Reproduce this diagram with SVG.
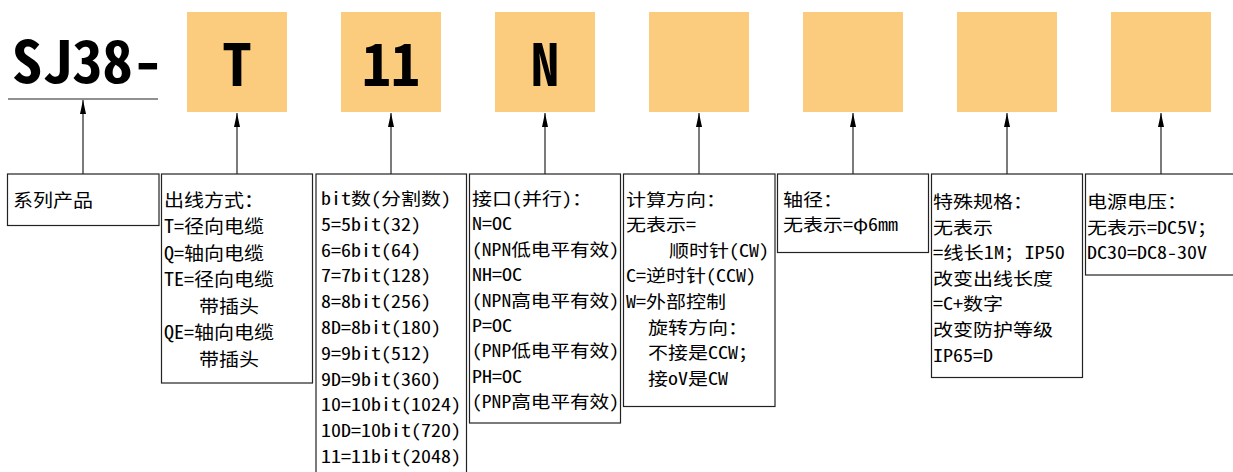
<svg xmlns="http://www.w3.org/2000/svg" width="1233" height="472" viewBox="0 0 1233 472">
<style>
.sq{fill:#FBCB7E}
.big{font-family:"Noto Sans Mono CJK SC","Noto Sans CJK SC","Liberation Sans",sans-serif;font-weight:bold;fill:#000}
.bx{fill:#fff;stroke:#222;stroke-width:1.2}
.t{font-family:"Noto Sans Mono CJK SC","Noto Sans CJK SC",sans-serif;font-size:17.4px;fill:#000}
.t18{font-size:18px}
.ln{stroke:#222;stroke-width:1.2;fill:none}
</style>
<defs>
<marker id="ah" viewBox="0 0 14 6" refX="14" refY="3" markerWidth="14" markerHeight="6" markerUnits="userSpaceOnUse" orient="auto">
<path d="M0,0 L14,3 L0,6 Z" fill="#000"/>
</marker>
</defs>
<rect width="1233" height="472" fill="#fff"/>
<g id="title">
<text class="big" x="12" y="83" font-size="58" textLength="151" lengthAdjust="spacingAndGlyphs">SJ38-</text>
<line class="ln" x1="8" y1="99" x2="158" y2="99"/>
</g>
<g id="sq-T"><rect class="sq" x="187" y="12" width="100" height="100"/><text class="big" x="237" y="85.5" font-size="58" text-anchor="middle">T</text></g>
<g id="sq-11"><rect class="sq" x="341" y="12" width="100" height="100"/><text class="big" x="391" y="85.5" font-size="58" text-anchor="middle">11</text></g>
<g id="sq-N"><rect class="sq" x="495" y="12" width="100" height="100"/><text class="big" x="545" y="85.5" font-size="58" text-anchor="middle">N</text></g>
<g id="sq-4"><rect class="sq" x="649" y="12" width="100" height="100"/></g>
<g id="sq-5"><rect class="sq" x="803" y="12" width="100" height="100"/></g>
<g id="sq-6"><rect class="sq" x="957" y="12" width="100" height="100"/></g>
<g id="sq-7"><rect class="sq" x="1111" y="12" width="100" height="100"/></g>

<g id="connectors">
<line class="ln" x1="83" y1="174" x2="83" y2="100" marker-end="url(#ah)"/>
<line class="ln" x1="237" y1="174" x2="237" y2="113" marker-end="url(#ah)"/>
<line class="ln" x1="391" y1="174" x2="391" y2="113" marker-end="url(#ah)"/>
<line class="ln" x1="545" y1="174" x2="545" y2="113" marker-end="url(#ah)"/>
<line class="ln" x1="699" y1="174" x2="699" y2="113" marker-end="url(#ah)"/>
<line class="ln" x1="853" y1="174" x2="853" y2="113" marker-end="url(#ah)"/>
<line class="ln" x1="1007" y1="174" x2="1007" y2="113" marker-end="url(#ah)"/>
<line class="ln" x1="1161" y1="174" x2="1161" y2="113" marker-end="url(#ah)"/>
</g>

<g id="box-series">
<rect class="bx" x="7.5" y="174" width="151.5" height="51.5"/>
<text class="t t18" x="13" y="206.5" textLength="80" lengthAdjust="spacingAndGlyphs">系列产品</text>
</g>
<g id="box-outlet">
<rect class="bx" x="161.5" y="174" width="151" height="209"/>
<text class="t t18" x="164" y="206.5" textLength="100" lengthAdjust="spacingAndGlyphs">出线方式：</text>
<text class="t t18" x="164" y="233" textLength="100" lengthAdjust="spacingAndGlyphs">T=径向电缆</text>
<text class="t t18" x="164" y="259.5" textLength="100" lengthAdjust="spacingAndGlyphs">Q=轴向电缆</text>
<text class="t t18" x="164" y="286" textLength="110" lengthAdjust="spacingAndGlyphs">TE=径向电缆</text>
<text class="t t18" x="199" y="312.5" textLength="60" lengthAdjust="spacingAndGlyphs">带插头</text>
<text class="t t18" x="164" y="339" textLength="110" lengthAdjust="spacingAndGlyphs">QE=轴向电缆</text>
<text class="t t18" x="199" y="365.5" textLength="60" lengthAdjust="spacingAndGlyphs">带插头</text>
</g>
<g id="box-bit">
<rect class="bx" x="316" y="174" width="150.5" height="310"/>
<text class="t" x="321" y="205" textLength="130" lengthAdjust="spacingAndGlyphs">bit数(分割数)</text>
<text class="t" x="321" y="230.8" textLength="100" lengthAdjust="spacingAndGlyphs">5=5bit(32)</text>
<text class="t" x="321" y="256.6" textLength="100" lengthAdjust="spacingAndGlyphs">6=6bit(64)</text>
<text class="t" x="321" y="282.4" textLength="110" lengthAdjust="spacingAndGlyphs">7=7bit(128)</text>
<text class="t" x="321" y="308.2" textLength="110" lengthAdjust="spacingAndGlyphs">8=8bit(256)</text>
<text class="t" x="321" y="334" textLength="120" lengthAdjust="spacingAndGlyphs">8D=8bit(180)</text>
<text class="t" x="321" y="359.8" textLength="110" lengthAdjust="spacingAndGlyphs">9=9bit(512)</text>
<text class="t" x="321" y="385.6" textLength="120" lengthAdjust="spacingAndGlyphs">9D=9bit(360)</text>
<text class="t" x="321" y="411.4" textLength="140" lengthAdjust="spacingAndGlyphs">10=10bit(1024)</text>
<text class="t" x="321" y="437.2" textLength="140" lengthAdjust="spacingAndGlyphs">10D=10bit(720)</text>
<text class="t" x="321" y="463" textLength="140" lengthAdjust="spacingAndGlyphs">11=11bit(2048)</text>
</g>
<g id="box-interface">
<rect class="bx" x="469.5" y="174" width="151" height="249"/>
<text class="t" x="472" y="205" textLength="120" lengthAdjust="spacingAndGlyphs">接口(并行)：</text>
<text class="t" x="472" y="230.4" textLength="40" lengthAdjust="spacingAndGlyphs">N=OC</text>
<text class="t" x="472" y="255.8" textLength="147" lengthAdjust="spacingAndGlyphs">(NPN低电平有效)</text>
<text class="t" x="472" y="281.2" textLength="50" lengthAdjust="spacingAndGlyphs">NH=OC</text>
<text class="t" x="472" y="306.6" textLength="147" lengthAdjust="spacingAndGlyphs">(NPN高电平有效)</text>
<text class="t" x="472" y="332" textLength="40" lengthAdjust="spacingAndGlyphs">P=OC</text>
<text class="t" x="472" y="357.4" textLength="147" lengthAdjust="spacingAndGlyphs">(PNP低电平有效)</text>
<text class="t" x="472" y="382.8" textLength="50" lengthAdjust="spacingAndGlyphs">PH=OC</text>
<text class="t" x="472" y="408.2" textLength="147" lengthAdjust="spacingAndGlyphs">(PNP高电平有效)</text>
</g>
<g id="box-direction">
<rect class="bx" x="623.5" y="174" width="151.5" height="232.5"/>
<text class="t" x="626" y="205.5" textLength="100" lengthAdjust="spacingAndGlyphs">计算方向：</text>
<text class="t" x="626" y="231.1" textLength="70" lengthAdjust="spacingAndGlyphs">无表示=</text>
<text class="t" x="669" y="256.7" textLength="100" lengthAdjust="spacingAndGlyphs">顺时针(CW)</text>
<text class="t" x="626" y="282.3" textLength="130" lengthAdjust="spacingAndGlyphs">C=逆时针(CCW)</text>
<text class="t" x="626" y="307.9" textLength="100" lengthAdjust="spacingAndGlyphs">W=外部控制</text>
<text class="t" x="648" y="333.5" textLength="100" lengthAdjust="spacingAndGlyphs">旋转方向：</text>
<text class="t" x="648" y="359.1" textLength="110" lengthAdjust="spacingAndGlyphs">不接是CCW；</text>
<text class="t" x="648" y="384.7" textLength="80" lengthAdjust="spacingAndGlyphs">接oV是CW</text>
</g>
<g id="box-shaft">
<rect class="bx" x="777.5" y="174" width="151" height="78.5"/>
<text class="t" x="783" y="205.5" textLength="60" lengthAdjust="spacingAndGlyphs">轴径：</text>
<text class="t" x="783" y="231.1" textLength="115" lengthAdjust="spacingAndGlyphs">无表示=φ6mm</text>
</g>
<g id="box-special">
<rect class="bx" x="931.5" y="174" width="151" height="203.5"/>
<text class="t" x="933" y="208" textLength="100" lengthAdjust="spacingAndGlyphs">特殊规格：</text>
<text class="t" x="933" y="233.6" textLength="60" lengthAdjust="spacingAndGlyphs">无表示</text>
<text class="t" x="933" y="259.2" textLength="132" lengthAdjust="spacingAndGlyphs">=线长1M；IP50</text>
<text class="t" x="933" y="284.8" textLength="120" lengthAdjust="spacingAndGlyphs">改变出线长度</text>
<text class="t" x="933" y="310.4" textLength="70" lengthAdjust="spacingAndGlyphs">=C+数字</text>
<text class="t" x="933" y="336" textLength="120" lengthAdjust="spacingAndGlyphs">改变防护等级</text>
<text class="t" x="933" y="361.6" textLength="60" lengthAdjust="spacingAndGlyphs">IP65=D</text>
</g>
<g id="box-power">
<rect class="bx" x="1085.5" y="174" width="160" height="101"/>
<text class="t" x="1087" y="208" textLength="100" lengthAdjust="spacingAndGlyphs">电源电压：</text>
<text class="t" x="1087" y="233.6" textLength="130" lengthAdjust="spacingAndGlyphs">无表示=DC5V；</text>
<text class="t" x="1087" y="259.2" textLength="120" lengthAdjust="spacingAndGlyphs">DC30=DC8-30V</text>
</g>
</svg>
